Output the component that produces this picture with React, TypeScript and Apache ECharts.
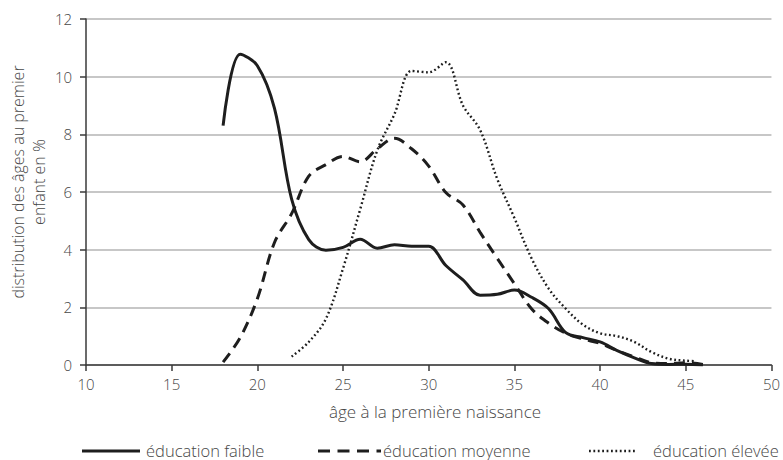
import React, { useEffect, useRef } from "react";
import * as echarts from "echarts";

const lowAges = [18,19,20,21,22,23,24,25,26,27,28,29,30,31,32,33,34,35,36,37,38,39,40,41,42,43,44,45,46];
const lowValues = [8.3,10.78,10.38,8.9,5.75,4.35,3.98,4.08,4.36,4.05,4.17,4.12,4.12,3.45,2.95,2.42,2.45,2.6,2.35,1.95,1.12,0.95,0.8,0.5,0.25,0.05,0.02,0.03,0];

const midAges = [18,19,20,21,22,23,24,25,26,27,28,29,30,31,32,33,34,35,36,37,38,39,40,41,42,43,44,45,46];
const midValues = [0.1,0.95,2.3,4.25,5.25,6.55,6.95,7.23,7.05,7.5,7.86,7.5,6.9,5.98,5.55,4.6,3.7,2.82,1.95,1.45,1.1,0.9,0.75,0.5,0.28,0.08,0.05,0.08,0.02];

const highAges = [22,23,24,25,26,27,28,29,30,31,32,33,34,35,36,37,38,39,40,41,42,43,44,45,45.6];
const highValues = [0.29,0.8,1.6,3.35,5.4,7.45,8.7,10.2,10.15,10.5,9.0,8.15,6.45,5.1,3.7,2.65,1.95,1.4,1.1,1.0,0.8,0.45,0.22,0.15,0.13];

const seriesNames = ["éducation faible", "éducation moyenne", "éducation élevée"];
const xTicks = { min: 10, max: 50, interval: 5 };
const yTicks = { min: 0, max: 12, interval: 2 };
const xTitle = "âge à la première naissance";
const yTitle = "distribution des âges au premier\nenfant en %";

const FONT = "'Open Sans'";
const TXT = "#474747";
const INK = "#1e1e1e";

const pairs = (xs: number[], ys: number[]) => xs.map((x, i) => [x, ys[i]]);

const txt = (size: number) => ({ fill: TXT, fontSize: size, fontFamily: FONT, fontWeight: 300 });

export default function App() {
  const ref = useRef<HTMLDivElement>(null);
  useEffect(() => {
    if (!ref.current) return;
    const chart = echarts.init(ref.current, undefined, { renderer: "svg" });
    const dashed = [11, 7];
    const dotted = [1.8, 2.6];
    chart.setOption({
      animation: false,
      textStyle: { fontFamily: FONT },
      grid: { left: 86, right: 11, top: 19, bottom: 95, containLabel: false },
      xAxis: {
        type: "value",
        min: xTicks.min,
        max: xTicks.max,
        interval: xTicks.interval,
        axisLine: { show: true, lineStyle: { color: "#3a3a3a", width: 1.5 } },
        axisTick: { show: true, length: 6, lineStyle: { color: "#3a3a3a", width: 1.5 } },
        axisLabel: { color: TXT, fontSize: 15, margin: 11, fontFamily: FONT, fontWeight: 300 },
        splitLine: { show: false },
      },
      yAxis: {
        type: "value",
        min: yTicks.min,
        max: yTicks.max,
        interval: yTicks.interval,
        axisLine: { show: true, lineStyle: { color: "#3a3a3a", width: 1.5 } },
        axisTick: { show: true, length: 6, lineStyle: { color: "#3a3a3a", width: 1.5 } },
        axisLabel: { color: TXT, fontSize: 15, margin: 14, fontFamily: FONT, fontWeight: 300 },
        splitLine: { show: true, lineStyle: { color: "#b4b4b4", width: 1.5 } },
      },
      series: [
        {
          name: seriesNames[0],
          type: "line",
          data: pairs(lowAges, lowValues),
          smooth: 0.35,
          showSymbol: false,
          lineStyle: { color: INK, width: 3 },
        },
        {
          name: seriesNames[1],
          type: "line",
          data: pairs(midAges, midValues),
          smooth: 0.35,
          showSymbol: false,
          lineStyle: { color: INK, width: 3, type: dashed },
        },
        {
          name: seriesNames[2],
          type: "line",
          data: pairs(highAges, highValues),
          smooth: 0.35,
          showSymbol: false,
          lineStyle: { color: INK, width: 2.4, type: dotted },
        },
      ],
      graphic: [
        {
          type: "text",
          x: 28,
          y: 182,
          rotation: Math.PI / 2,
          style: {
            text: yTitle,
            ...txt(16),
            align: "center",
            verticalAlign: "middle",
            lineHeight: 21,
          },
        },
        {
          type: "text",
          x: 435,
          y: 411,
          style: { text: xTitle, ...txt(17), align: "center", verticalAlign: "middle" },
        },
        { type: "line", shape: { x1: 82, y1: 451, x2: 140, y2: 451 }, style: { stroke: INK, lineWidth: 3 } },
        {
          type: "text", x: 146, y: 450,
          style: { text: seriesNames[0], ...txt(16.5), align: "left", verticalAlign: "middle" },
        },
        { type: "line", shape: { x1: 318, y1: 451, x2: 381, y2: 451 }, style: { stroke: INK, lineWidth: 3, lineDash: [12, 7.5] } },
        {
          type: "text", x: 383, y: 450,
          style: { text: seriesNames[1], ...txt(16.5), align: "left", verticalAlign: "middle" },
        },
        { type: "line", shape: { x1: 589, y1: 451, x2: 637, y2: 451 }, style: { stroke: INK, lineWidth: 2.4, lineDash: dotted } },
        {
          type: "text", x: 653, y: 450,
          style: { text: seriesNames[2], ...txt(16.5), align: "left", verticalAlign: "middle" },
        },
      ],
    });
    return () => chart.dispose();
  }, []);
  return <div ref={ref} style={{ width: 783, height: 460, position: "absolute", left: 0, top: 0 }} />;
}
